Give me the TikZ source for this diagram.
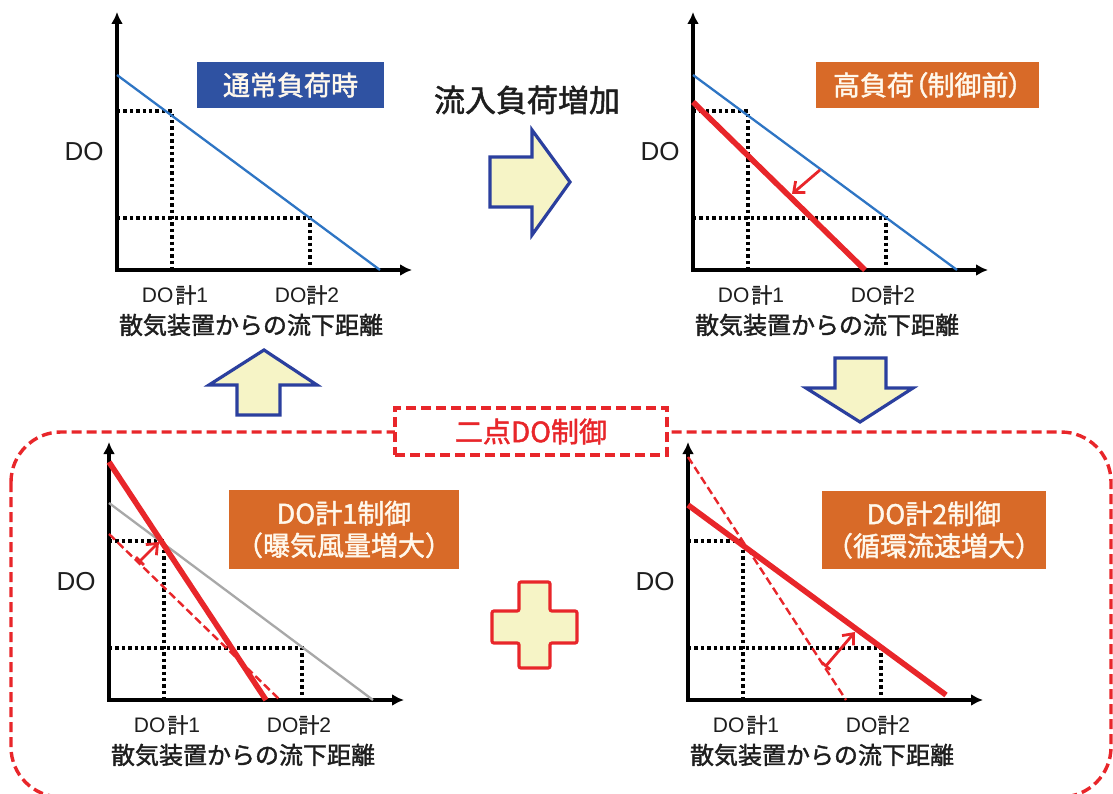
\documentclass[tikz,border=0pt]{standalone}
\usepackage{fontspec}
\setmainfont{Liberation Sans}
\newfontfamily\jp[FakeBold=1.6]{Noto Sans CJK JP}
\newfontfamily\jpp[FakeBold=1.6,RawFeature=+palt]{Noto Sans CJK JP}
\usetikzlibrary{arrows.meta}
\definecolor{boxblue}{HTML}{2F52A2}
\definecolor{boxorange}{HTML}{D86A28}
\definecolor{lineblue}{HTML}{2E75C4}
\definecolor{redl}{HTML}{E8262A}
\definecolor{arrowblue}{HTML}{2B3F9E}
\definecolor{paleyellow}{HTML}{F6F4C6}
\definecolor{txt}{HTML}{1E1E1E}
\definecolor{grayl}{HTML}{A8A8A8}
\definecolor{boxtxt}{HTML}{FFF8EC}
\tikzset{
  axisline/.style={line width=4.2pt, line join=miter, {Latex[length=12pt,width=12pt]}-{Latex[length=12pt,width=12pt]}},
  guide/.style={line width=3.8pt, dash pattern=on 3.4pt off 3pt},
  lablarge/.style={text=txt, font=\fontsize{26}{30}\selectfont, inner sep=0pt},
  labsmall/.style={text=txt, font=\fontsize{21}{24}\selectfont, inner sep=0pt},
  labx/.style={text=txt, font=\fontsize{24}{28}\selectfont\jp, inner sep=0pt},
  titlebox/.style={text=boxtxt, font=\fontsize{27}{32}\selectfont\jp, align=center, inner sep=0pt},
  bigarrow/.style={draw=arrowblue, fill=paleyellow, line width=3.2pt, line join=miter},
  thinblue/.style={lineblue, line width=2.3pt},
  thickred/.style={redl, line width=5.6pt},
  dashred/.style={redl, line width=2.4pt, dash pattern=on 8pt off 4pt},
  grayline/.style={grayl, line width=2.3pt},
  redarrow/.style={redl, line width=2.8pt, -{Straight Barb[length=9pt,width=15pt]}},
  redbararrow/.style={redl, line width=2.8pt, {Bar[width=11pt]}-{Straight Barb[length=9pt,width=15pt]}},
  pics/doplot/.style={code={
    \draw[guide] (0,-159) -- (55,-159) -- (55,0);
    \draw[guide] (0,-52) -- (193,-52) -- (193,0);
    \draw[axisline] (0,-258) -- (0,0) -- (295,0);
    \node[lablarge] (-do) at (-33,-118) {DO};
    \node[labsmall] (-m1) at (58,25) {DO\kern2pt{\jp 計}1};
    \node[labsmall] (-m2) at (190,25) {DO{\jp 計}2};
    \node[labx] (-xl) at (134,55) {散気装置からの流下距離};
  }}
}
\begin{document}
\begin{tikzpicture}[x=1pt,y=-1pt]
\useasboundingbox (0,0) rectangle (1113,794);
\fill[white] (0,0) rectangle (1113,794);

% outer dashed region
\draw[redl, line width=3.4pt, dash pattern=on 10pt off 5pt, rounded corners=50pt] (11,432) rectangle (1111,797);
\node[draw=redl, line width=3.4pt, dash pattern=on 10pt off 5pt, fill=white, minimum width=272pt, minimum height=47pt, text=redl, font=\fontsize{28}{32}\selectfont\jp, inner sep=0pt] (ctl) at (531,431.5) {二点DO制御};

% top-left plot
\begin{scope}[shift={(117,270)}]
  \pic (tl) at (0,0) {doplot};
  \draw[thinblue] (0,-195) -- (263,0);
  \node[titlebox, fill=boxblue, minimum width=187pt, minimum height=46pt] (tlbox) at (173.5,-185) {通常負荷時};
\end{scope}

% top-right plot
\begin{scope}[shift={(693,270)}]
  \pic (tr) at (0,0) {doplot};
  \draw[thinblue] (0,-195) -- (264,0);
  \draw[thickred] (0,-168) -- (172,0);
  \coordinate (tra) at (127,-100);
  \coordinate (trb) at (99,-76);
  \draw[redarrow] (tra) -- (trb);
  \node[titlebox, fill=boxorange, minimum width=223pt, minimum height=46pt, font=\fontsize{27}{32}\selectfont\jpp] (trbox) at (234.5,-185) {高負荷（制御前）};
\end{scope}

% bottom-left plot
\begin{scope}[shift={(109,700)}]
  \pic (bl) at (0,0) {doplot};
  \draw[grayline] (0,-197) -- (264,0);
  \draw[dashred] (0,-166) -- (171,0);
  \draw[thickred] (0,-238) -- (157,0);
  \coordinate (bla) at (30,-138);
  \coordinate (blb) at (50,-158);
  \draw[redbararrow] (bla) -- (blb);
  \node[titlebox, fill=boxorange, minimum width=230pt, minimum height=79pt] (blbox) at (235,-170.5) {DO計1制御\\（曝気風量増大）};
\end{scope}

% bottom-right plot
\begin{scope}[shift={(688,700)}]
  \pic (br) at (0,0) {doplot};
  \draw[dashred] (0,-243) -- (158,0);
  \draw[thickred] (0,-195) -- (258,-5);
  \coordinate (bra) at (137,-33);
  \coordinate (brb) at (167,-68);
  \draw[redbararrow] (bra) -- (brb);
  \node[titlebox, fill=boxorange, minimum width=224pt, minimum height=78pt] (brbox) at (246,-170) {DO計2制御\\（循環流速増大）};
\end{scope}

% transition label and arrows
\node[text=txt, font=\fontsize{31}{36}\selectfont\jp, inner sep=0pt] (inc) at (527,100) {流入負荷増加};
\draw[bigarrow] (490,157) -- (532,157) -- (532,130) -- (570,182) -- (532,235) -- (532,207) -- (490,207) -- cycle;
\draw[bigarrow] (264,350) -- (317,385) -- (280,385) -- (280,415) -- (237,415) -- (237,385) -- (209,385) -- cycle;
\draw[bigarrow] (860,422) -- (913,388) -- (886,388) -- (886,358) -- (835,358) -- (835,388) -- (806,388) -- cycle;

% plus sign
\draw[draw=redl, fill=paleyellow, line width=3.2pt, rounded corners=2pt] (519,582) -- (550,582) -- (550,611) -- (577,611) -- (577,643) -- (550,643) -- (550,668) -- (519,668) -- (519,643) -- (492,643) -- (492,611) -- (519,611) -- cycle;
\end{tikzpicture}
\end{document}
